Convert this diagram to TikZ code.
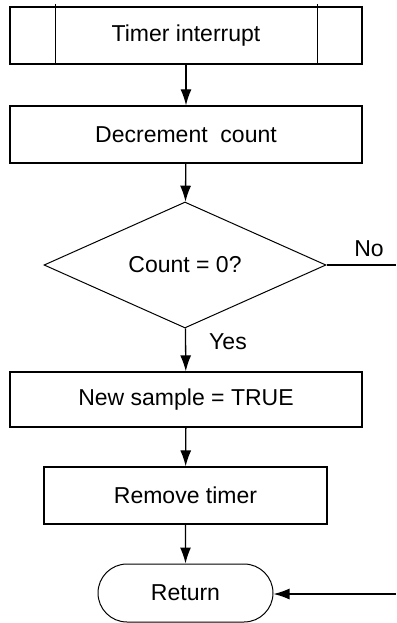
\documentclass[tikz,border=0pt]{standalone}
\usepackage{fontspec}
\setmainfont{Liberation Sans}
\usetikzlibrary{calc,arrows.meta,shapes.geometric,shapes.misc}

\tikzset{
  stepbox/.style={draw, line width=1.3pt, minimum width=352pt, minimum height=57pt, inner sep=0pt},
  decision/.style={draw, diamond, line width=1pt, aspect=2.24, minimum width=282pt, minimum height=126pt, inner sep=0pt},
  terminal/.style={draw, rounded rectangle, line width=1pt, minimum width=175pt, minimum height=58pt, inner sep=0pt},
  flow/.style={line width=1.3pt, -{Latex[length=16pt,width=11pt]}},
}

\begin{document}
\begin{tikzpicture}[x=1pt, y=-1pt, font=\fontsize{23}{27}\selectfont]
    \useasboundingbox (0,0) rectangle (396,623);
    % Draw the boxes of the flow chart
    \node[stepbox] (timer) at (186,35.5) {Timer interrupt};
    \draw[line width=1.3pt] ($(timer.north west)+(46,-2)$) -- ($(timer.south west)+(46,0)$);
    \draw[line width=1.3pt] ($(timer.north east)+(-45,-2)$) -- ($(timer.south east)+(-45,0)$);
    \node[stepbox] (decr) at (186,134.5) {Decrement\ \ count};
    \node[decision] (count) at (185,265) {Count = 0?};
    \node[stepbox, minimum height=55pt] (sample) at (186,399.5) {New sample = TRUE};
    \node[stepbox, minimum width=283pt] (remove) at (185.5,495.5) {Remove timer};
    \node[terminal] (return) at (185.5,593) {Return};
    % Draw the connectors
    \draw[flow] (timer) -- (decr);
    \draw[flow] (decr) -- (count);
    \draw[flow] (count) -- (sample);
    \draw[flow] (sample) -- (remove);
    \draw[flow] (remove) -- (return);
    \coordinate (noend) at (396,265);
    \coordinate (backin) at (396,594);
    \draw[line width=1.3pt] (count.east) -- (noend);
    \draw[flow] (backin) -- (return.east |- backin);
    % Draw the branch labels
    \node (nolabel) at (369,249) {No};
    \node (yeslabel) at (228,342) {Yes};
  \end{tikzpicture}
\end{document}
